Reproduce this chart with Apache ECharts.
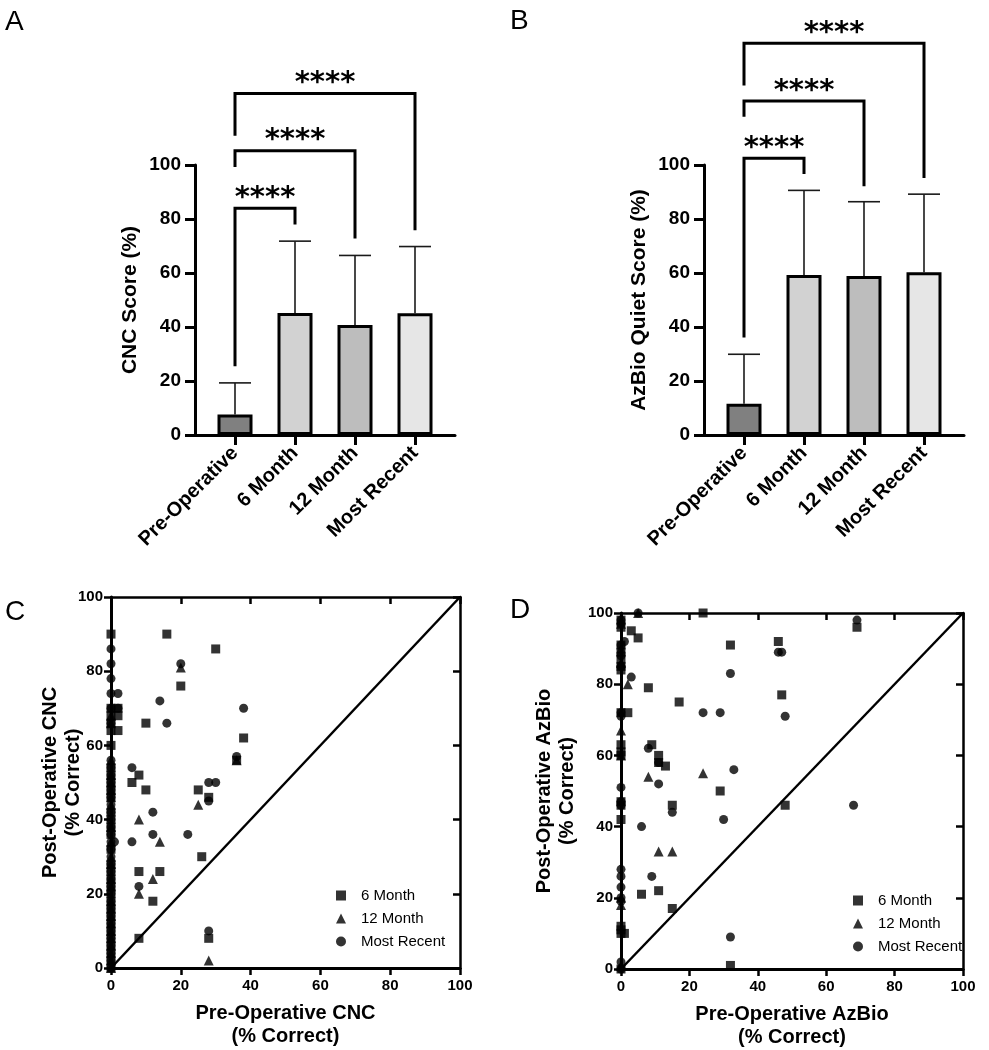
<!DOCTYPE html>
<html><head><meta charset="utf-8">
<script src="https://cdn.jsdelivr.net/npm/echarts@6/dist/echarts.min.js"></script>
<style>html,body{margin:0;padding:0;background:#fff}#c{width:989px;height:1050px}</style>
</head><body><div id="c"></div>
<script>
// ---------- data ----------
const categories = ['Pre-Operative', '6 Month', '12 Month', 'Most Recent'];
const cncMeans = [7.6, 45.2, 40.7, 45.1];
const cncUpper = [19.3, 71.8, 66.5, 69.8];
const azbioMeans = [11.6, 59.3, 58.9, 60.3];
const azbioUpper = [29.9, 90.6, 86.4, 89.2];
const barColors = ['#808080', '#d2d2d2', '#bdbdbd', '#e6e6e6'];
// [from, to, bracket height, left leg end, right leg end]
const cncBrackets = [[0, 1, 84.0, 25.5, 78.0], [0, 2, 105.3, 99.3, 72.8], [0, 3, 126.5, 110.8, 75.8]];
const azbioBrackets = [[0, 1, 102.5, 36.1, 96.7], [0, 2, 123.7, 117.9, 92.1], [0, 3, 145.1, 129.4, 95.2]];
const sigLabel = '****';
const seriesNames = ['6 Month', '12 Month', 'Most Recent'];
const scoreTicks = [0, 20, 40, 60, 80, 100];
const identityLine = [[0, 0], [100, 100]];

const cnc6Month = [[0,90],[0,70],[0,68],[0,66],[0,64],[0,60],[0,54],[0,52],[0,50],[0,48],[0,46],[0,42],[0,40],[0,38],[0,36],[0,32],[0,28],[0,26],[0,24],[0,22],[0,20],[0,18],[0,16],[0,14],[0,12],[0,10],[0,8],[0,6],[0,4],[0,2],[0,0],[2,70],[2,68],[2,64],[16,90],[30,86],[20,76],[10,66],[38,62],[36,56],[6,50],[8,52],[10,48],[25,48],[28,46],[26,30],[8,26],[14,26],[12,18],[8,8],[28,8]];
const cnc12Month = [[0,68],[0,66],[0,56],[0,52],[0,50],[0,48],[0,46],[0,44],[0,38],[0,34],[0,30],[0,28],[0,24],[0,22],[0,18],[0,16],[0,14],[0,12],[0,10],[0,8],[0,6],[0,4],[0,2],[0,0],[8,40],[14,34],[12,24],[8,20],[25,44],[28,2],[20,81],[36,56]];
const cncMostRecent = [[0,86],[0,82],[0,78],[0,74],[0,70],[0,66],[0,56],[0,54],[0,52],[0,50],[0,48],[0,46],[0,44],[0,42],[0,40],[0,38],[0,36],[0,34],[0,32],[0,30],[0,28],[0,26],[0,24],[0,22],[0,20],[0,18],[0,16],[0,14],[0,12],[0,10],[0,8],[0,6],[0,4],[0,2],[0,0],[2,74],[2,70],[1,34],[20,82],[14,72],[16,66],[38,70],[36,57],[6,54],[28,50],[30,50],[28,45],[12,42],[6,34],[12,36],[22,36],[8,22],[28,10]];

const az6Month = [[0,98],[0,96],[0,91],[0,89],[0,87],[0,85],[0,84],[0,72],[0,63],[0,61],[0,60],[0,47],[0,46],[0,42],[0,12],[0,11],[0,10],[0,0],[5,93],[3,95],[24,100],[32,91],[46,92],[69,96],[47,77],[8,79],[17,75],[2,72],[9,63],[11,60],[11,58],[13,57],[29,50],[15,46],[48,46],[6,21],[11,22],[15,17],[32,1],[1,10]];
const az12Month = [[0,97],[0,90],[0,86],[0,67],[0,60],[0,20],[0,18],[0,1],[2,80],[8,54],[24,55],[11,33],[15,33],[5,100]];
const azMostRecent = [[0,98],[0,97],[0,91],[0,88],[0,85],[0,72],[0,71],[0,51],[0,47],[0,46],[0,28],[0,26],[0,23],[0,20],[0,19],[0,2],[0,0],[5,100],[1,92],[3,82],[32,83],[46,89],[47,89],[69,98],[24,72],[29,72],[48,71],[8,62],[11,58],[11,52],[33,56],[15,44],[30,42],[6,40],[68,46],[9,26],[32,9]];

// ---------- chart ----------
const FONT = '"Liberation Sans", Arial, sans-serif';
const chart = echarts.init(document.getElementById('c'), null, {renderer: 'canvas'});

function barXAxis(gi) {
  return {
    gridIndex: gi, type: 'value', min: -2 / 3, max: 11 / 3,
    axisLine: {show: true, onZero: false, lineStyle: {color: '#000', width: 3}},
    axisTick: {show: true, customValues: [0, 1, 2, 3], length: 10, lineStyle: {color: '#000', width: 3}},
    axisLabel: {show: true, customValues: [0, 1, 2, 3], formatter: v => categories[Math.round(v)] || '',
      rotate: 45, margin: 15, color: '#000', fontSize: 20, fontWeight: 'bold', fontFamily: FONT},
    splitLine: {show: false}
  };
}
function barYAxis(gi, name) {
  return {
    gridIndex: gi, type: 'value', min: 0, max: 100, interval: 20,
    axisLine: {show: true, onZero: false, lineStyle: {color: '#000', width: 3}},
    axisTick: {show: true, length: 10, lineStyle: {color: '#000', width: 3}},
    axisLabel: {color: '#000', fontSize: 19, fontWeight: 'bold', fontFamily: FONT, margin: 14},
    splitLine: {show: false},
    name: name, nameLocation: 'middle', nameRotate: 90, nameGap: 54, nameMoveOverlap: false,
    nameTextStyle: {color: '#000', fontSize: 21, fontWeight: 'bold', fontFamily: FONT}
  };
}
function scatX(gi, top, name) {
  const o = {
    gridIndex: gi, type: 'value', min: 0, max: 100, interval: 20, position: top ? 'top' : 'bottom',
    axisLine: {show: true, onZero: false, lineStyle: {color: '#000', width: top ? 2.5 : 3}},
    axisTick: {show: true, inside: !!top, length: 7, lineStyle: {color: '#000', width: 2.5}},
    axisLabel: {show: !top, color: '#000', fontSize: 15, fontWeight: 'bold', fontFamily: FONT, margin: 10},
    splitLine: {show: false}
  };
  if (name) Object.assign(o, {name: name, nameLocation: 'middle', nameGap: 34, nameMoveOverlap: false,
    nameTextStyle: {color: '#000', fontSize: 20, fontWeight: 'bold', fontFamily: FONT, lineHeight: 23}});
  return o;
}
function scatY(gi, right, name, gap) {
  const o = {
    gridIndex: gi, type: 'value', min: 0, max: 100, interval: 20, position: right ? 'right' : 'left',
    axisLine: {show: true, onZero: false, lineStyle: {color: '#000', width: right ? 2.5 : 3}},
    axisTick: {show: true, inside: !!right, length: 7, lineStyle: {color: '#000', width: 2.5}},
    axisLabel: {show: !right, color: '#000', fontSize: 15, fontWeight: 'bold', fontFamily: FONT, margin: 8},
    splitLine: {show: false}
  };
  if (name) Object.assign(o, {name: name, nameLocation: 'middle', nameRotate: 90, nameGap: gap, nameMoveOverlap: false,
    nameTextStyle: {color: '#000', fontSize: 20, fontWeight: 'bold', fontFamily: FONT, lineHeight: 23}});
  return o;
}

function barSeries(gi, means) {
  return {
    type: 'bar', xAxisIndex: gi, yAxisIndex: gi, barWidth: 35, z: 3,
    itemStyle: {borderColor: '#000', borderWidth: 3},
    data: means.map((m, i) => ({value: [i, m], itemStyle: {color: barColors[i]}}))
  };
}
function errSeries(gi, means, upper) {
  return {
    type: 'custom', xAxisIndex: gi, yAxisIndex: gi, z: 2, clip: false,
    data: means.map((m, i) => [i, m, upper[i]]),
    encode: {x: 0, y: [1, 2]},
    renderItem: (params, api) => {
      const p0 = api.coord([api.value(0), api.value(1)]);
      const p1 = api.coord([api.value(0), api.value(2)]);
      const st = {stroke: '#1a1a1a', lineWidth: 1.6};
      return {type: 'group', children: [
        {type: 'line', shape: {x1: p0[0], y1: p0[1], x2: p1[0], y2: p1[1]}, style: st},
        {type: 'line', shape: {x1: p1[0] - 16, y1: p1[1], x2: p1[0] + 16, y2: p1[1]}, style: st}
      ]};
    }
  };
}
function bracketSeries(gi, rows) {
  return {
    type: 'custom', xAxisIndex: gi, yAxisIndex: gi, z: 5, clip: false,
    data: rows, encode: {x: [0, 1], y: [2]},
    renderItem: (params, api) => {
      const a = api.value(0), b = api.value(1), h = api.value(2), l = api.value(3), r = api.value(4);
      const pl = api.coord([a, l]), pa = api.coord([a, h]), pb = api.coord([b, h]), pr = api.coord([b, r]);
      return {type: 'group', children: [
        {type: 'polyline', shape: {points: [pl, pa, pb, pr]}, style: {stroke: '#000', lineWidth: 3, fill: null}},
        {type: 'text', style: {text: sigLabel, x: (pa[0] + pb[0]) / 2, y: pa[1] - 10, align: 'center', verticalAlign: 'middle',
          fontSize: 29, fontWeight: 'bold', fontFamily: '"DejaVu Sans", sans-serif', fill: '#000'}}
      ]};
    }
  };
}
function scatterSeries(xi, yi, name, data) {
  const sym = {'6 Month': ['rect', 9], '12 Month': ['triangle', 10], 'Most Recent': ['circle', 9]}[name];
  return {type: 'scatter', name: name, xAxisIndex: xi, yAxisIndex: yi, data: data, symbol: sym[0], symbolSize: sym[1],
    itemStyle: {color: '#000'}, z: 4};
}
function diagSeries(xi, yi) {
  return {type: 'line', xAxisIndex: xi, yAxisIndex: yi, data: identityLine, symbol: 'none', silent: true,
    lineStyle: {color: '#000', width: 2.5}, z: 3};
}
function legendAt(left, top) {
  return {data: seriesNames, orient: 'vertical', left: left, top: top, itemWidth: 10, itemHeight: 10, itemGap: 8,
    selectedMode: false, textStyle: {color: '#000', fontSize: 15, fontFamily: FONT, padding: [0, 0, 0, 10]}};
}
const letter = (t, l, tp) => ({text: t, left: l, top: tp, textStyle: {fontSize: 28, fontWeight: 'normal', fontFamily: FONT, color: '#000'}});

const option = {
  backgroundColor: '#fff',
  animation: false,
  title: [letter('A', 0, 3), letter('B', 505, 2), letter('C', 0, 593), letter('D', 505, 591)],
  grid: [
    {left: 195, top: 165, width: 260, height: 270},
    {left: 704, top: 165, width: 260, height: 270},
    {left: 111, top: 597, width: 349, height: 371},
    {left: 621, top: 613, width: 342, height: 357}
  ],
  xAxis: [barXAxis(0), barXAxis(1),
    scatX(2, false, 'Pre-Operative CNC\n(% Correct)'), scatX(2, true),
    scatX(3, false, 'Pre-Operative AzBio\n(% Correct)'), scatX(3, true)],
  yAxis: [barYAxis(0, 'CNC Score (%)'), barYAxis(1, 'AzBio Quiet Score (%)'),
    scatY(2, false, 'Post-Operative CNC\n(% Correct)', 26), scatY(2, true),
    scatY(3, false, 'Post-Operative AzBio\n(% Correct)', 42), scatY(3, true)],
  legend: [legendAt(331, 883), legendAt(848, 888)],
  series: [
    barSeries(0, cncMeans), errSeries(0, cncMeans, cncUpper), bracketSeries(0, cncBrackets),
    barSeries(1, azbioMeans), errSeries(1, azbioMeans, azbioUpper), bracketSeries(1, azbioBrackets),
    diagSeries(2, 2),
    scatterSeries(2, 2, '6 Month', cnc6Month), scatterSeries(2, 2, '12 Month', cnc12Month), scatterSeries(2, 2, 'Most Recent', cncMostRecent),
    diagSeries(4, 4),
    scatterSeries(4, 4, '6 Month', az6Month), scatterSeries(4, 4, '12 Month', az12Month), scatterSeries(4, 4, 'Most Recent', azMostRecent)
  ]
};
chart.setOption(option);
</script>
</body></html>
